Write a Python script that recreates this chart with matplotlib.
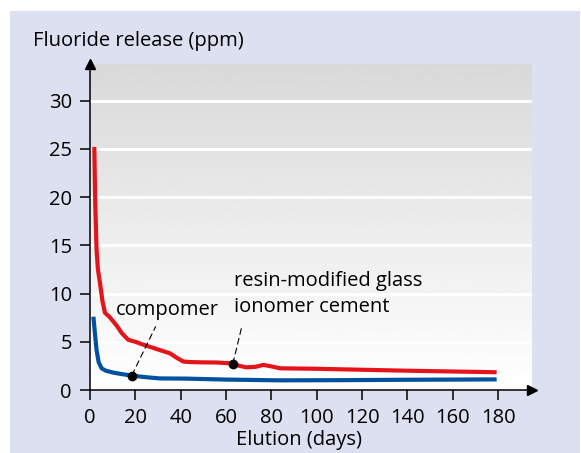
import numpy as np
import matplotlib.pyplot as plt
from matplotlib.patches import Rectangle

# Fluoride release over time (days, ppm)
rmgic_days = [1.9, 2.3, 2.9, 3.5, 4.4, 5.5, 6.6, 8.5, 10.3, 12.0, 14.0, 16.9, 20.0, 23.5, 30.0, 35.3, 38.5, 41.2, 44.0, 48.5, 56.0, 62.5, 66.0, 69.0, 73.0, 76.5, 80.0, 83.8, 100.0, 120.0, 140.0, 160.0, 179.4]
rmgic_ppm = [25.2, 19.5, 14.5, 12.5, 11.1, 9.2, 8.0, 7.6, 7.1, 6.6, 5.9, 5.2, 5.0, 4.7, 4.2, 3.8, 3.3, 2.95, 2.9, 2.87, 2.85, 2.76, 2.5, 2.35, 2.4, 2.6, 2.45, 2.25, 2.2, 2.1, 2.0, 1.92, 1.84]
comp_days = [1.5, 2.2, 2.9, 3.8, 5.1, 7.0, 10.3, 14.0, 18.4, 25.0, 30.9, 42.6, 60.0, 84.0, 110.0, 140.0, 179.4]
comp_ppm = [7.6, 5.8, 4.15, 2.9, 2.25, 2.0, 1.8, 1.65, 1.49, 1.32, 1.2, 1.18, 1.08, 1.0, 1.02, 1.06, 1.1]
x_ticks = [0, 20, 40, 60, 80, 100, 120, 140, 160, 180]
y_ticks = [0, 5, 10, 15, 20, 25, 30]

FS = 14.5
plt.rcParams['font.family'] = ['Open Sans', 'DejaVu Sans']
fig = plt.figure(figsize=(5.81, 4.53), dpi=100)
fig.patch.set_facecolor('white')
fig.patches.append(Rectangle((10 / 581, 0), 570 / 581, 442 / 453, transform=fig.transFigure,
                             facecolor='#dde0f1', edgecolor='none', zorder=-5))

ax = fig.add_axes([90 / 581, 63 / 453, 442 / 581, 326 / 453])
ax.set_facecolor('none')

# vertical grey-to-white background (grey at the top)
grad = np.linspace(0.85, 1.0, 256).reshape(-1, 1)
ax.imshow(grad, cmap='gray', vmin=0, vmax=1, aspect='auto', extent=[0, 195, 0, 33.8],
          zorder=0, origin='upper')
ax.set_xlim(0, 195)
ax.set_ylim(0, 33.8)
for y in y_ticks[1:]:
    ax.axhline(y, color='white', lw=2.2, zorder=1)

ax.plot(rmgic_days, rmgic_ppm, color='#e5141b', lw=3, zorder=3, solid_capstyle='butt')
ax.plot(comp_days, comp_ppm, color='#0052a1', lw=3, zorder=3, solid_capstyle='butt')

for s in ['top', 'right']:
    ax.spines[s].set_visible(False)
for s in ['left', 'bottom']:
    ax.spines[s].set_linewidth(1.1)
ax.plot(1, 0, '>k', ms=7, transform=ax.transAxes, clip_on=False, zorder=5)
ax.plot(0, 1, '^k', ms=7, transform=ax.transAxes, clip_on=False, zorder=5)

ax.set_xticks(x_ticks)
ax.set_yticks(y_ticks)
ax.tick_params(direction='out', length=7, width=1.1, labelsize=FS)
ax.tick_params(axis='y', pad=6)
ax.tick_params(axis='x', pad=6)

# annotations
ax.plot(18.4, 1.5, 'ok', ms=6, zorder=4)
ax.plot([18.4, 29.0], [1.5, 6.6], 'k--', lw=0.8, dashes=(6, 3), zorder=4)
ax.text(34, 7.8, 'compomer', fontsize=FS, ha='center', va='baseline')
ax.plot(63.0, 2.7, 'ok', ms=6, zorder=4)
ax.plot([63.0, 67.0], [2.7, 6.6], 'k--', lw=0.8, dashes=(6, 3), zorder=4)
ax.text(63.5, 10.8, 'resin-modified glass', fontsize=FS, ha='left', va='baseline')
ax.text(63.5, 8.1, 'ionomer cement', fontsize=FS, ha='left', va='baseline')

fig.text(33 / 581, 1 - 41 / 453, 'Fluoride release (ppm)', fontsize=FS, ha='left', va='center')
fig.text(299 / 581, 1 - 440 / 453, 'Elution (days)', fontsize=FS, ha='center', va='center')

fig.savefig('out.png', dpi=100)
